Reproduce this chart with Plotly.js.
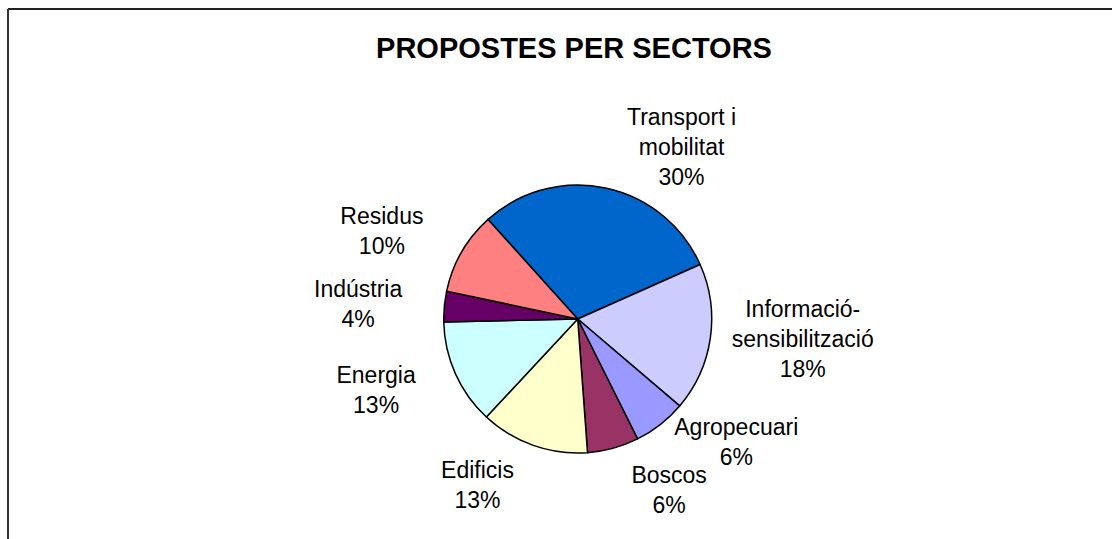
<!DOCTYPE html>
<html>
<head>
<meta charset="utf-8">
<script src="https://cdn.plot.ly/plotly-3.0.1.min.js"></script>
<style>
  html, body { margin: 0; padding: 0; background: #ffffff; }
  #chart { width: 1112px; height: 539px; }
</style>
</head>
<body>
<div id="chart"></div>
<script>
// Data (clockwise from the first slice)
const categories = [
  "Transport i<br>mobilitat",
  "Informació-<br>sensibilització",
  "Agropecuari",
  "Boscos",
  "Edificis",
  "Energia",
  "Indústria",
  "Residus"
];
const shares = [30.0, 17.9, 6.4, 6.2, 13.1, 12.7, 3.7, 10.0];
const sliceColors = ["#0066CC", "#CCCCFF", "#9999FF", "#993366", "#FFFFCC", "#CCFFFF", "#660066", "#FF8080"];
const chartTitle = "PROPOSTES PER SECTORS";

// Label group of each slice: 0 = just outside the pie, 1 = bottom ring, 2 = left ring
const labelGroup = [0, 0, 0, 1, 1, 2, 2, 2];

const W = 1112, H = 539;
const cx = 577.7, cy = 319, r = 134;
const groupRadius = [134, 150, 162];
const FONT = "Liberation Sans, Arial, sans-serif";

function domainFor(rad) {
  return {
    x: [(cx - rad) / W, (cx + rad) / W],
    y: [1 - (cy + rad) / H, 1 - (cy - rad) / H]
  };
}

const labelFont = { family: FONT, size: 23, color: "#000000" };

const traces = groupRadius.map((rad, g) => ({
  type: "pie",
  labels: categories,
  values: shares,
  sort: false,
  direction: "clockwise",
  rotation: -42,
  marker: g === 0
    ? { colors: sliceColors, line: { color: "#000000", width: 1.5 } }
    : { colors: categories.map(() => "rgba(0,0,0,0)"), line: { width: 0 } },
  textposition: labelGroup.map(v => v === g ? "outside" : "none"),
  texttemplate: "%{label}<br>%{percent:.0%}",
  outsidetextfont: labelFont,
  hoverinfo: "skip",
  showlegend: false,
  automargin: false,
  domain: domainFor(rad)
}));

const layout = {
  width: W,
  height: H,
  margin: { l: 0, r: 0, t: 0, b: 0 },
  paper_bgcolor: "#ffffff",
  plot_bgcolor: "#ffffff",
  font: { family: FONT, color: "#000000" },
  showlegend: false,
  title: {
    text: "<b>" + chartTitle + "</b>",
    font: { family: FONT, size: 29, color: "#000000" },
    x: 574 / W,
    xanchor: "center",
    xref: "container",
    y: 1 - 48 / H,
    yanchor: "middle",
    yref: "container"
  },
  shapes: [
    { type: "line", xref: "paper", yref: "paper", x0: 8 / W, x1: 1, y0: 1 - 9 / H, y1: 1 - 9 / H,
      line: { color: "#222222", width: 2 } },
    { type: "line", xref: "paper", yref: "paper", x0: 8 / W, x1: 8 / W, y0: 0, y1: 1 - 9 / H,
      line: { color: "#333333", width: 2 } }
  ]
};

Plotly.newPlot("chart", traces, layout, { staticPlot: true, displayModeBar: false });
</script>
</body>
</html>
